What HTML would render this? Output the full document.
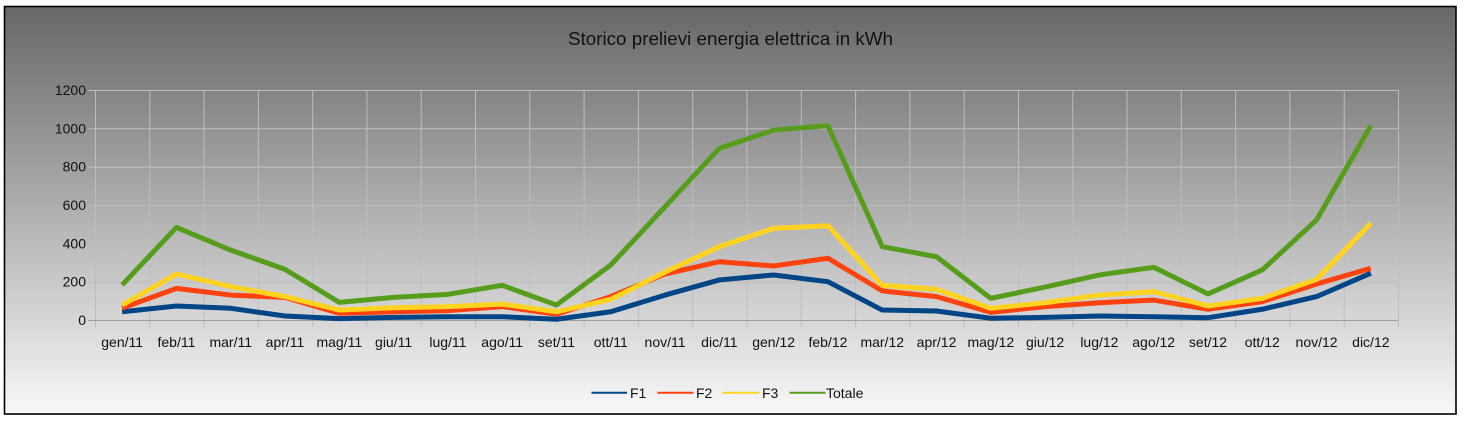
<!DOCTYPE html>
<html>
<head>
<meta charset="utf-8">
<style>
html,body{margin:0;padding:0;background:#fff;}
body{width:1464px;height:424px;overflow:hidden;}
svg{display:block;}
text{font-family:"Liberation Sans",Arial,sans-serif;fill:#111;}
</style>
</head>
<body>
<svg width="1464" height="424" viewBox="0 0 1464 424" xmlns="http://www.w3.org/2000/svg">
<defs>
<linearGradient id="bg" x1="0" y1="0" x2="0" y2="1">
<stop offset="0" stop-color="#676767"/>
<stop offset="1" stop-color="#f8f8f8"/>
</linearGradient>
</defs>
<rect x="0" y="0" width="1464" height="424" fill="#fff"/>
<rect x="4.5" y="6.5" width="1451.5" height="407.5" fill="url(#bg)" stroke="#000" stroke-width="1.6"/>

<text x="730.5" y="45" font-size="18" text-anchor="middle" textLength="325" lengthAdjust="spacingAndGlyphs">Storico prelievi energia elettrica in kWh</text>

<g stroke="#bdbdbd" stroke-width="1" fill="none">
<path d="M88 90.5H1398.5M88 128.8H1398.5M88 167.2H1398.5M88 205.5H1398.5M88 243.8H1398.5M88 282.2H1398.5"/>
<path d="M95.5 90V327M149.8 90V327M204.1 90V327M258.4 90V327M312.7 90V327M366.9 90V327M421.2 90V327M475.5 90V327M529.8 90V327M584.1 90V327M638.4 90V327M692.7 90V327M747 90V327M801.3 90V327M855.6 90V327M909.9 90V327M964.2 90V327M1018.5 90V327M1072.8 90V327M1127 90V327M1181.3 90V327M1235.6 90V327M1289.9 90V327M1344.2 90V327M1398.5 90V327"/>
</g>
<path d="M88 320.5H1398.5" stroke="#a0a0a0" stroke-width="1"/>

<g font-size="14" text-anchor="end">
<text x="86" y="95">1200</text>
<text x="86" y="133.3">1000</text>
<text x="86" y="171.7">800</text>
<text x="86" y="210">600</text>
<text x="86" y="248.3">400</text>
<text x="86" y="286.7">200</text>
<text x="86" y="325">0</text>
</g>

<g font-size="14" text-anchor="middle">
<text x="122.15" y="347">gen/11</text>
<text x="176.44" y="347">feb/11</text>
<text x="230.73" y="347">mar/11</text>
<text x="285.02" y="347">apr/11</text>
<text x="339.31" y="347">mag/11</text>
<text x="393.6" y="347">giu/11</text>
<text x="447.9" y="347">lug/11</text>
<text x="502.19" y="347">ago/11</text>
<text x="556.48" y="347">set/11</text>
<text x="610.77" y="347">ott/11</text>
<text x="665.06" y="347">nov/11</text>
<text x="719.35" y="347">dic/11</text>
<text x="773.65" y="347">gen/12</text>
<text x="827.94" y="347">feb/12</text>
<text x="882.23" y="347">mar/12</text>
<text x="936.52" y="347">apr/12</text>
<text x="990.81" y="347">mag/12</text>
<text x="1045.1" y="347">giu/12</text>
<text x="1099.4" y="347">lug/12</text>
<text x="1153.69" y="347">ago/12</text>
<text x="1207.98" y="347">set/12</text>
<text x="1262.27" y="347">ott/12</text>
<text x="1316.56" y="347">nov/12</text>
<text x="1370.85" y="347">dic/12</text>
</g>

<g fill="none" stroke-width="5" stroke-linejoin="round" stroke-linecap="butt">
<polyline stroke="#004586" points="122.15,311.76 176.44,306.01 230.73,308.31 285.02,315.97 339.31,318.66 393.6,317.32 447.9,316.74 502.19,316.74 556.48,319.23 610.77,311.76 665.06,295.08 719.35,279.94 773.65,274.96 827.94,281.67 882.23,310.03 936.52,310.99 990.81,318.27 1045.1,317.32 1099.4,315.97 1153.69,316.74 1207.98,317.7 1262.27,309.27 1316.56,296.62 1370.85,273.23"/>
<polyline stroke="#ff420e" points="122.15,308.12 176.44,288.37 230.73,295.08 285.02,297.38 339.31,313.29 393.6,311.76 447.9,310.61 502.19,306.58 556.48,314.25 610.77,296.62 665.06,274 719.35,261.73 773.65,265.95 827.94,258.28 882.23,290.87 936.52,296.62 990.81,312.33 1045.1,306.58 1099.4,302.75 1153.69,300.07 1207.98,309.27 1262.27,301.6 1316.56,283.97 1370.85,268.25"/>
<polyline stroke="#ffd320" points="122.15,305.05 176.44,274 230.73,286.65 285.02,296.62 339.31,310.03 393.6,307.73 447.9,306.58 502.19,304.09 556.48,311.76 610.77,299.3 665.06,272.08 719.35,246.59 773.65,228.38 827.94,225.7 882.23,285.31 936.52,289.33 990.81,308.31 1045.1,302.75 1099.4,295.08 1153.69,291.63 1207.98,306.01 1262.27,298.34 1316.56,279.37 1370.85,223.4"/>
<polyline stroke="#579d1c" points="122.15,284.92 176.44,227.42 230.73,250.04 285.02,269.4 339.31,302.37 393.6,297.38 447.9,294.32 502.19,285.31 556.48,305.05 610.77,264.99 665.06,206.72 719.35,148.27 773.65,130.06 827.94,125.65 882.23,246.59 936.52,256.75 990.81,298.34 1045.1,287.03 1099.4,274.96 1153.69,267.29 1207.98,293.93 1262.27,269.97 1316.56,219.95 1370.85,125.46"/>
</g>

<g stroke-width="2">
<path d="M591.5 392.7H627" stroke="#004586"/>
<path d="M657.5 392.7H693.5" stroke="#ff420e"/>
<path d="M722.5 392.7H759.5" stroke="#ffd320"/>
<path d="M789.5 392.7H825.5" stroke="#579d1c"/>
</g>
<g font-size="14">
<text x="630" y="398">F1</text>
<text x="696" y="398">F2</text>
<text x="762" y="398">F3</text>
<text x="826" y="398">Totale</text>
</g>
</svg>
</body>
</html>
